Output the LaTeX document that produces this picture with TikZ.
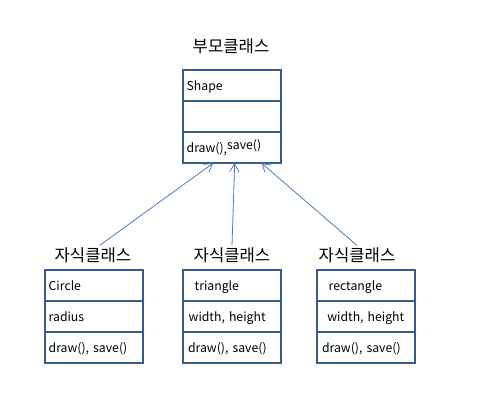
\documentclass[tikz,border=0pt]{standalone}
\usepackage{fontspec}
\setmainfont{Noto Sans CJK KR}
\usetikzlibrary{positioning,arrows.meta}
\definecolor{boxline}{HTML}{385D8A}
\definecolor{arrowline}{HTML}{4A7EBB}

\begin{document}
\begin{tikzpicture}[x=0.75pt,y=-0.75pt,
				rowbox/.style={draw=boxline, line width=1.4pt, outer sep=0pt, minimum width=73.5pt, minimum height=23.25pt,
					text width=68pt, inner xsep=2.75pt, align=left, text height=9pt, text depth=1.5pt,
					font=\fontsize{9.2}{10}\selectfont, anchor=north west},
				title/.style={font=\fontsize{12.5}{14}\selectfont},
				inherit/.style={draw=arrowline, line width=0.6pt, -{Straight Barb[length=6pt,width=7pt]}},
				]
		\useasboundingbox (0,0) rectangle (483,403);

				%Parent class
				\node[title]		(pt)	at (231,46)	{부모클래스};
				\node[rowbox]		(s1)	at (183,70)	{Shape};
				\node[rowbox]		(s2)	[below=0pt of s1.south west, anchor=north west]	{};
				\node[rowbox]		(s3)	[below=0pt of s2.south west, anchor=north west]	{draw()\raisebox{-1pt}{,}\raisebox{2.5pt}{save()}};

				%Child classes
				\node[title]		(ct1)	at (93,255)		{자식클래스};
				\node[rowbox]		(c1)	at (45,270)		{Circle};
				\node[rowbox]		(c2)	[below=0pt of c1.south west, anchor=north west]	{radius};
				\node[rowbox]		(c3)	[below=0pt of c2.south west, anchor=north west]	{draw(), save()};

				\node[title]		(ct2)	at (232,255)	{자식클래스};
				\node[rowbox]		(t1)	at (183,270)	{\hspace*{6pt}triangle};
				\node[rowbox]		(t2)	[below=0pt of t1.south west, anchor=north west]	{\hspace*{1.5pt}width, height};
				\node[rowbox]		(t3)	[below=0pt of t2.south west, anchor=north west]	{\hspace*{1pt}draw(), save()};

				\node[title]		(ct3)	at (357,255)	{자식클래스};
				\node[rowbox]		(r1)	at (317,270)	{\hspace*{6pt}rectangle};
				\node[rowbox]		(r2)	[below=0pt of r1.south west, anchor=north west]	{\hspace*{5pt}width, height};
				\node[rowbox]		(r3)	[below=0pt of r2.south west, anchor=north west]	{\hspace*{1pt}draw(), save()};

				%Lines
				\draw[inherit]	([xshift=5pt,yshift=-2pt]ct1.north) -- ([xshift=-14pt]s3.south);
				\draw[inherit]	([yshift=-2pt]ct2.north) -- ([xshift=2pt]s3.south);
				\draw[inherit]	([yshift=-2pt]ct3.north) -- ([xshift=22pt]s3.south);
			\end{tikzpicture}
\end{document}
